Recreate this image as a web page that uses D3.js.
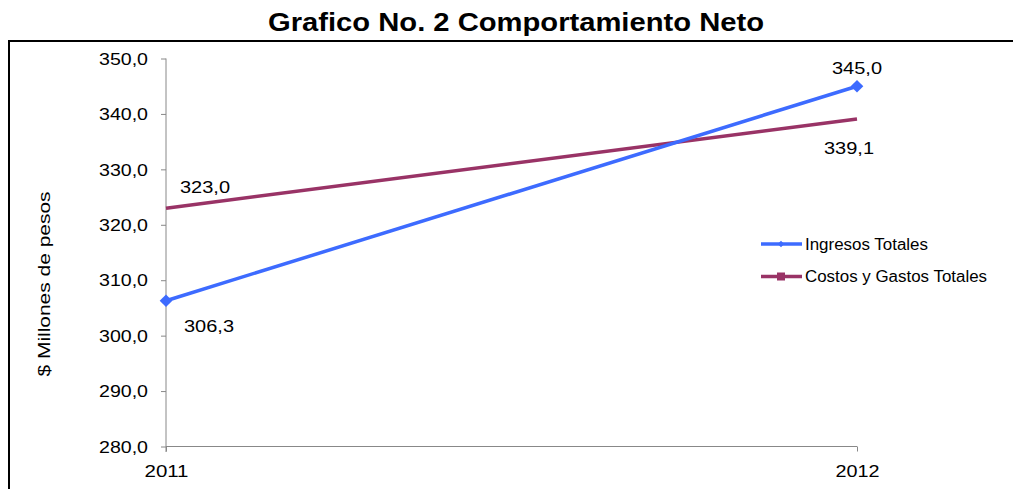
<!DOCTYPE html>
<html><head><meta charset="utf-8">
<script src="https://cdn.jsdelivr.net/npm/d3@7"></script>
<style>body{margin:0;background:#fff;}svg{display:block;font-family:"Liberation Sans",Arial,sans-serif;}</style>
</head><body>
<svg id="c" width="1013" height="489"></svg>
<script>
const categories = ["2011", "2012"];
const ingresos = [306.3, 345.0];
const costos = [323.0, 339.1];
const yTicks = [280, 290, 300, 310, 320, 330, 340, 350];
const seriesNames = ["Ingresos Totales", "Costos y Gastos Totales"];

const svg = d3.select("#c");
const fmt = v => d3.format(".1f")(v).replace(".", ",");
const stretch = (sel, f) => sel.attr("lengthAdjust", "spacingAndGlyphs").attr("textLength", function () { return this.getComputedTextLength() * f; });
const SX = 1.13;

// outer frame
svg.append("path").attr("d", "M9,600 V41 H1100").attr("fill", "none").attr("stroke", "#000").attr("stroke-width", 2);

svg.append("text").attr("x", 516).attr("y", 31).attr("text-anchor", "middle")
  .attr("font-size", 25).attr("font-weight", "bold").text("Grafico No. 2 Comportamiento Neto")
  .call(s => s.attr("lengthAdjust", "spacingAndGlyphs").attr("textLength", 496));

const x = d3.scalePoint().domain(categories).range([166, 857]);
const y = d3.scaleLinear().domain([280, 350]).range([446.5, 58.5]);

const ya = svg.append("g").attr("transform", "translate(166,0)")
  .call(d3.axisLeft(y).tickValues(yTicks).tickFormat(fmt).tickSize(5).tickPadding(13));
ya.select(".domain").attr("stroke", "#888").attr("d", "M0,58.5V452");
ya.selectAll(".tick line").attr("stroke", "#888");
ya.selectAll(".tick text").attr("font-size", 16).attr("fill", "#000").attr("font-family", "Liberation Sans, Arial, sans-serif")
  .attr("dy", "0.36em").call(s => s.attr("lengthAdjust", "spacingAndGlyphs").attr("textLength", 49));

const xa = svg.append("g").attr("transform", "translate(0,446.5)")
  .call(d3.axisBottom(x).tickSize(5).tickPadding(6));
xa.select(".domain").attr("stroke", "#888").attr("d", "M166,0H857");
xa.selectAll(".tick line").attr("stroke", "#888");
xa.selectAll(".tick text").attr("font-size", 16).attr("fill", "#000").attr("font-family", "Liberation Sans, Arial, sans-serif")
  .attr("dy", null).attr("y", 30).call(s => s.attr("lengthAdjust", "spacingAndGlyphs").attr("textLength", 44));

svg.append("text").attr("transform", "translate(50,284) rotate(-90)").attr("text-anchor", "middle")
  .attr("font-size", 16).text("$ Millones de pesos")
  .call(s => s.attr("lengthAdjust", "spacingAndGlyphs").attr("textLength", 185));

const line = d3.line().x((d, i) => x(categories[i])).y(d => y(d));
const cBlue = "#3D6BFF", cPurp = "#993366";

svg.append("path").datum(costos).attr("d", line).attr("fill", "none").attr("stroke", cPurp).attr("stroke-width", 3.5);
svg.append("path").datum(ingresos).attr("d", line).attr("fill", "none").attr("stroke", cBlue).attr("stroke-width", 3.5);

svg.selectAll(".dm").data(ingresos).enter().append("path")
  .attr("d", d3.symbol().type(d3.symbolSquare).size(80))
  .attr("transform", (d, i) => `translate(${x(categories[i])},${y(d)}) rotate(45)`)
  .attr("fill", cBlue);

// data labels
const lab = (t, xx, yy) => svg.append("text").attr("x", xx).attr("y", yy).attr("text-anchor", "middle").attr("font-size", 16).text(t)
  .call(s => s.attr("lengthAdjust", "spacingAndGlyphs").attr("textLength", 50));
lab(fmt(ingresos[0]), x(categories[0]) + 43, y(ingresos[0]) + 31);
lab(fmt(ingresos[1]), x(categories[1]), y(ingresos[1]) - 12);
lab(fmt(costos[0]), x(categories[0]) + 39, y(costos[0]) - 15);
lab(fmt(costos[1]), x(categories[1]) - 8, y(costos[1]) + 35);

// legend
const lg = svg.append("g").attr("transform", "translate(761,244)");
const legW = [123, 182];
[cBlue, cPurp].forEach((c, i) => {
  const g = lg.append("g").attr("transform", `translate(0,${i * 32.5})`);
  g.append("line").attr("x1", 0).attr("x2", 41).attr("stroke", c).attr("stroke-width", 3.5);
  if (i === 0) g.append("path").attr("d", d3.symbol().type(d3.symbolSquare).size(20)).attr("transform", "translate(20,0) rotate(45)").attr("fill", c);
  else g.append("rect").attr("x", 16).attr("y", -4).attr("width", 8).attr("height", 8).attr("fill", c);
  g.append("text").attr("x", 44).attr("y", 5.5).attr("font-size", 16).text(seriesNames[i])
    .attr("lengthAdjust", "spacingAndGlyphs").attr("textLength", legW[i]);
});
</script>
</body></html>
